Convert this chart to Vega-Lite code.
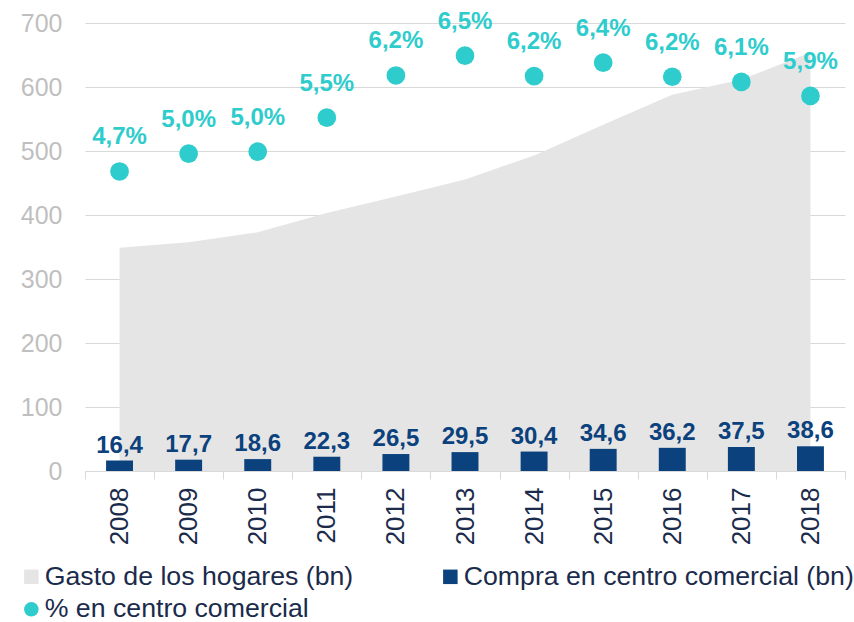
{
  "$schema": "https://vega.github.io/schema/vega-lite/v6.json",
  "width": 760,
  "height": 448,
  "autosize": {"type": "none"},
  "padding": {"left": 85, "top": 23, "right": 9, "bottom": 151},
  "config": {
    "font": "Liberation Sans",
    "view": {"stroke": null},
    "locale": {"number": {"decimal": ",", "thousands": ".", "grouping": [3], "currency": ["", " €"]}}
  },
  "data": {"values": [
    {"year": "2008", "gasto": 349, "compra": 16.4, "pct": 0.0468},
    {"year": "2009", "gasto": 357.5, "compra": 17.7, "pct": 0.0496},
    {"year": "2010", "gasto": 373, "compra": 18.6, "pct": 0.0499},
    {"year": "2011", "gasto": 403, "compra": 22.3, "pct": 0.0552},
    {"year": "2012", "gasto": 429, "compra": 26.5, "pct": 0.0618},
    {"year": "2013", "gasto": 455.5, "compra": 29.5, "pct": 0.0649},
    {"year": "2014", "gasto": 493, "compra": 30.4, "pct": 0.0617},
    {"year": "2015", "gasto": 541, "compra": 34.6, "pct": 0.0638},
    {"year": "2016", "gasto": 588, "compra": 36.2, "pct": 0.0616},
    {"year": "2017", "gasto": 611.7, "compra": 37.5, "pct": 0.0608},
    {"year": "2018", "gasto": 654, "compra": 38.6, "pct": 0.0586}
  ]},
  "encoding": {
    "x": {
      "field": "year", "type": "nominal",
      "scale": {"paddingInner": 0, "paddingOuter": 0},
      "axis": {
        "title": null, "labelAngle": -90, "labelFontSize": 26, "labelColor": "#1b2b4b",
        "labelFont": "Liberation Sans", "domainColor": "#d9d9d9", "tickColor": "#d9d9d9",
        "tickSize": 8, "tickBand": "extent", "labelPadding": 8, "grid": false
      }
    }
  },
  "layer": [
    {
      "encoding": {
        "y": {
          "type": "quantitative",
          "scale": {"domain": [0, 700], "nice": false},
          "axis": {
            "title": null, "values": [0, 100, 200, 300, 400, 500, 600, 700],
            "labelFontSize": 25, "labelColor": "#bfbfbf", "labelPadding": 23,
            "ticks": false, "domain": false, "gridColor": "#d9d9d9", "gridWidth": 1
          }
        }
      },
      "layer": [
        {
          "mark": {"type": "area", "opacity": 1},
          "encoding": {
            "y": {"field": "gasto", "type": "quantitative"},
            "color": {
              "datum": "Gasto de los hogares (bn)",
              "type": "nominal",
              "scale": {
                "domain": ["Gasto de los hogares (bn)", "Compra en centro comercial (bn)", "% en centro comercial"],
                "range": ["#e5e5e5", "#0b417c", "#2ecccc"]
              },
              "legend": {
                "title": null, "orient": "none", "legendX": -67, "legendY": 540,
                "direction": "horizontal", "columns": 2, "columnPadding": 83, "rowPadding": 5,
                "labelFontSize": 26.7, "labelColor": "#1b2b4b", "labelLimit": 500, "labelOffset": 0,
                "symbolSize": 210, "symbolStrokeWidth": 0, "symbolOpacity": 1, "padding": 0,
                "symbolType": "square",
                "encode": {
                  "symbols": {
                    "update": {
                      "shape": {"signal": "datum.value === '% en centro comercial' ? 'circle' : 'square'"},
                      "fill": {"scale": "color", "field": "value"},
                      "opacity": {"value": 1}
                    }
                  }
                }
              }
            }
          }
        },
        {
          "mark": {"type": "bar", "width": {"band": 0.39}},
          "encoding": {
            "y": {"field": "compra", "type": "quantitative"},
            "color": {"datum": "Compra en centro comercial (bn)", "type": "nominal"}
          }
        },
        {
          "mark": {"type": "text", "fontSize": 24, "fontWeight": "bold", "color": "#0b417c", "baseline": "alphabetic", "dy": -8},
          "encoding": {
            "y": {"field": "compra", "type": "quantitative"},
            "text": {"field": "compra", "type": "quantitative", "format": ".1f"}
          }
        }
      ]
    },
    {
      "encoding": {
        "y": {
          "field": "pct", "type": "quantitative",
          "scale": {"domain": [0, 0.07], "nice": false},
          "axis": null
        }
      },
      "layer": [
        {
          "mark": {"type": "point", "filled": true, "shape": "circle", "size": 350, "opacity": 1},
          "encoding": {"color": {"datum": "% en centro comercial", "type": "nominal"}}
        },
        {
          "mark": {"type": "text", "fontSize": 24, "fontWeight": "bold", "color": "#2ecccc", "baseline": "alphabetic", "dy": -27},
          "encoding": {"text": {"field": "pct", "type": "quantitative", "format": ".1%"}}
        }
      ]
    }
  ],
  "resolve": {"scale": {"y": "independent", "color": "shared"}, "legend": {"color": "shared"}}
}
